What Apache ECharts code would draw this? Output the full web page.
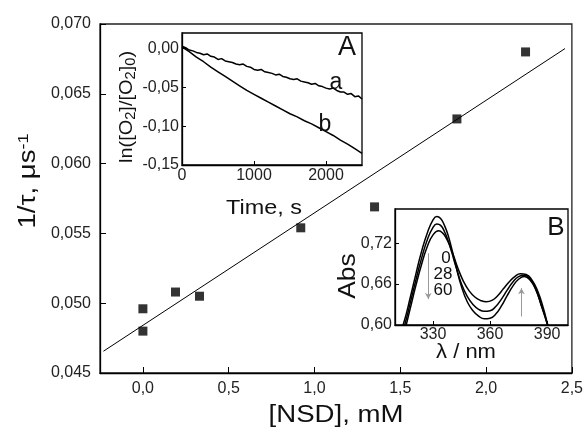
<!DOCTYPE html>
<html><head><meta charset="utf-8">
<script src="https://cdn.jsdelivr.net/npm/echarts@6/dist/echarts.min.js"></script>
<style>html,body{margin:0;padding:0;background:#fff}#c{width:586px;height:435px}</style>
</head><body><div id="c"></div>
<script>
// ---- Main panel data ----
const nsd = [0, 0, 0.19, 0.33, 0.92, 1.35, 1.83, 2.23];
const invTau = [0.0496, 0.0480, 0.0508, 0.0505, 0.0554, 0.0569, 0.0632, 0.0680];
const fitX = [-0.23, 2.46];
const fitY = [0.04656, 0.06824];
const mainXTicks = [0, 0.5, 1, 1.5, 2, 2.5];

// ---- Inset A data ----
const timeA = [0,50,100,150,200,250,300,350,400,450,500,550,600,650,700,750,800,850,900,950,1000,1050,1100,1150,1200,1250,1300,1350,1400,1450,1500,1550,1600,1650,1700,1750,1800,1850,1900,1950,2000,2050,2100,2150,2200,2250,2300,2350,2400,2450,2500];
const curveA = [0.003,0.001,-0.002,-0.003,-0.005,-0.006,-0.008,-0.007,-0.010,-0.011,-0.014,-0.013,-0.016,-0.017,-0.018,-0.020,-0.021,-0.020,-0.023,-0.024,-0.027,-0.028,-0.027,-0.030,-0.031,-0.032,-0.034,-0.033,-0.036,-0.037,-0.039,-0.040,-0.039,-0.042,-0.043,-0.044,-0.046,-0.045,-0.048,-0.049,-0.051,-0.052,-0.051,-0.054,-0.056,-0.056,-0.059,-0.058,-0.062,-0.061,-0.065];
const timeB = [0,100,200,300,400,500,600,700,800,900,1000,1100,1200,1300,1400,1500,1600,1700,1800,1900,2000,2100,2200,2300,2400,2500];
const curveB = [0.002,-0.004,-0.011,-0.017,-0.024,-0.030,-0.036,-0.042,-0.048,-0.054,-0.059,-0.064,-0.069,-0.074,-0.079,-0.084,-0.088,-0.093,-0.097,-0.102,-0.107,-0.112,-0.118,-0.123,-0.129,-0.135];
const insetAXTicks = [0, 1000, 2000];
const insetAYTicks = [-0.15, -0.10, -0.05, 0.00];

// ---- Inset B data ----
const wl0 = [312,315,318,321,324,327,330,332,334,336,338,340,342,345,348,351,354,357,360,363,366,369,372,375,378,381,384,387,390,392];
const abs0 = [0.583,0.607,0.640,0.675,0.708,0.735,0.754,0.759,0.756,0.746,0.731,0.710,0.687,0.656,0.634,0.621,0.613,0.609,0.610,0.616,0.628,0.643,0.657,0.667,0.671,0.666,0.652,0.628,0.602,0.580];
const wl28 = [312,315,318,321,324,327,330,332,334,336,338,340,342,345,348,351,354,357,360,363,366,369,372,375,378,381,384,387,390,392];
const abs28 = [0.574,0.599,0.632,0.666,0.698,0.725,0.743,0.748,0.746,0.737,0.723,0.705,0.686,0.660,0.642,0.630,0.623,0.620,0.621,0.627,0.638,0.651,0.663,0.671,0.673,0.668,0.653,0.629,0.603,0.581];
const wl60 = [312,315,318,321,324,327,330,333,335,337,339,341,343,346,349,352,355,358,361,364,367,370,373,376,379,382,385,388,390,392];
const abs60 = [0.566,0.591,0.624,0.658,0.689,0.715,0.732,0.738,0.735,0.727,0.715,0.700,0.684,0.664,0.650,0.641,0.636,0.634,0.636,0.643,0.653,0.663,0.671,0.675,0.674,0.666,0.650,0.625,0.604,0.582];
const arrowDown = [[327.5, 0.705], [327.5, 0.638]];
const arrowUp = [[376.5, 0.6125], [376.5, 0.654]];
const insetBXTicks = [330, 360, 390];
const insetBYTicks = [0.60, 0.66, 0.72];
const timeLabels = ['0', '28', '60'];

const zip = (xs, ys) => xs.map((x, i) => [x, ys[i]]);
const comma = d => v => v.toFixed(d).replace('.', ',');
const FONT = '"Liberation Sans", Arial, sans-serif';
const axisBase = {
  axisLine: {show: true, onZero: false, lineStyle: {color: '#000', width: 1.3}},
  splitLine: {show: false}
};

const chart = echarts.init(document.getElementById('c'), null, {renderer: 'canvas'});
chart.setOption({
  animation: false,
  backgroundColor: '#fff',
  grid: [
    {left: 100, top: 24, right: 12, bottom: 62, show: true, borderColor: '#222', borderWidth: 1.3, backgroundColor: '#fff', z: 0},
    {left: 182, top: 33, width: 180, height: 132, show: true, borderColor: '#000', borderWidth: 1.3, backgroundColor: '#fff', z: 3},
    {left: 395, top: 209, width: 173, height: 116, show: true, borderColor: '#000', borderWidth: 1.3, backgroundColor: '#fff', z: 3}
  ],
  xAxis: [
    Object.assign({}, axisBase, {gridIndex: 0, type: 'value', min: -0.25, max: 2.5,
      axisTick: {inside: true, length: 6, customValues: mainXTicks, lineStyle: {color: '#000'}},
      axisLabel: {customValues: mainXTicks, formatter: comma(1), fontFamily: FONT, fontSize: 16, color: '#222', margin: 8}}),
    Object.assign({}, axisBase, {gridIndex: 1, type: 'value', min: 0, max: 2500, z: 4,
      axisTick: {inside: true, length: 4, customValues: insetAXTicks, lineStyle: {color: '#000'}},
      axisLabel: {customValues: insetAXTicks, formatter: v => String(v), fontFamily: FONT, fontSize: 16, color: '#222', margin: 3}}),
    Object.assign({}, axisBase, {gridIndex: 2, type: 'value', min: 310, max: 401, z: 4,
      axisTick: {inside: true, length: 4, customValues: insetBXTicks, lineStyle: {color: '#000'}},
      axisLabel: {customValues: insetBXTicks, formatter: v => String(v), fontFamily: FONT, fontSize: 16, color: '#222', margin: 2}})
  ],
  yAxis: [
    Object.assign({}, axisBase, {gridIndex: 0, type: 'value', min: 0.045, max: 0.070, interval: 0.005,
      axisTick: {inside: true, length: 6, lineStyle: {color: '#000'}},
      axisLabel: {formatter: comma(3), fontFamily: FONT, fontSize: 16, color: '#222', margin: 9}}),
    Object.assign({}, axisBase, {gridIndex: 1, type: 'value', min: -0.15, max: 0.02, z: 4,
      axisTick: {inside: true, length: 4, customValues: insetAYTicks, lineStyle: {color: '#000'}},
      axisLabel: {customValues: insetAYTicks, formatter: comma(2), fontFamily: FONT, fontSize: 16, color: '#222', margin: 3}}),
    Object.assign({}, axisBase, {gridIndex: 2, type: 'value', min: 0.60, max: 0.77, z: 4,
      axisTick: {inside: true, length: 4, customValues: insetBYTicks, lineStyle: {color: '#000'}},
      axisLabel: {customValues: insetBYTicks, formatter: comma(2), fontFamily: FONT, fontSize: 16, color: '#222', margin: 3}})
  ],
  series: [
    {type: 'line', xAxisIndex: 0, yAxisIndex: 0, data: zip(fitX, fitY), symbol: 'none',
      lineStyle: {color: '#000', width: 1}, z: 1},
    {type: 'scatter', xAxisIndex: 0, yAxisIndex: 0, data: zip(nsd, invTau), symbol: 'rect', symbolSize: 9,
      itemStyle: {color: '#000'}, z: 2},
    {type: 'line', xAxisIndex: 1, yAxisIndex: 1, data: zip(timeA, curveA), symbol: 'none',
      lineStyle: {color: '#000', width: 1.5}, z: 5},
    {type: 'line', xAxisIndex: 1, yAxisIndex: 1, data: zip(timeB, curveB), symbol: 'none',
      lineStyle: {color: '#000', width: 1.5}, z: 5},
    {type: 'line', xAxisIndex: 2, yAxisIndex: 2, data: zip(wl0, abs0), symbol: 'none', smooth: true,
      lineStyle: {color: '#000', width: 1.5}, z: 5,
      markLine: {silent: true, symbol: ['none', 'arrow'], symbolSize: [5, 6], label: {show: false},
        lineStyle: {color: '#999', width: 1, type: 'solid'},
        data: [
          [{coord: arrowDown[0]}, {coord: arrowDown[1]}],
          [{coord: arrowUp[0]}, {coord: arrowUp[1]}]
        ]}},
    {type: 'line', xAxisIndex: 2, yAxisIndex: 2, data: zip(wl28, abs28), symbol: 'none', smooth: true,
      lineStyle: {color: '#000', width: 1.5}, z: 5},
    {type: 'line', xAxisIndex: 2, yAxisIndex: 2, data: zip(wl60, abs60), symbol: 'none', smooth: true,
      lineStyle: {color: '#000', width: 1.5}, z: 5}
  ],
  graphic: [
    {type: 'text', x: 29, y: 181, rotation: Math.PI / 2, scaleX: 1.2, z: 10,
      style: {text: '{n|1/τ, μs}{s|-1}', align: 'center', verticalAlign: 'middle', fill: '#111',
        rich: {n: {fontFamily: FONT, fontSize: 23, lineHeight: 26}, s: {fontFamily: FONT, fontSize: 15, verticalAlign: 'top', lineHeight: 26, padding: [0,0,10,0]}}}},
    {type: 'text', x: 336, y: 416, scaleX: 1.2, z: 10,
      style: {text: '[NSD], mM', align: 'center', verticalAlign: 'middle', fill: '#111', font: '23px ' + FONT}},
    {type: 'text', x: 127, y: 107, rotation: Math.PI / 2, scaleX: 1.05, z: 10,
      style: {text: '{n|ln([O}{b|2}{n|]/[O}{b|2}{n|]}{b|0}{n|)}', align: 'center', verticalAlign: 'middle', fill: '#111',
        rich: {n: {fontFamily: FONT, fontSize: 19, lineHeight: 22}, b: {fontFamily: FONT, fontSize: 14, verticalAlign: 'bottom', lineHeight: 22}}}},
    {type: 'text', x: 264, y: 208, scaleX: 1.17, z: 10,
      style: {text: 'Time, s', align: 'center', verticalAlign: 'middle', fill: '#111', font: '20px ' + FONT}},
    {type: 'text', x: 347, y: 48, z: 10,
      style: {text: 'A', align: 'center', verticalAlign: 'middle', fill: '#111', font: '27px ' + FONT}},
    {type: 'text', x: 336, y: 83, z: 10,
      style: {text: 'a', align: 'center', verticalAlign: 'middle', fill: '#111', font: '23px ' + FONT}},
    {type: 'text', x: 325, y: 125, z: 10,
      style: {text: 'b', align: 'center', verticalAlign: 'middle', fill: '#111', font: '23px ' + FONT}},
    {type: 'text', x: 556, y: 228, z: 10,
      style: {text: 'B', align: 'center', verticalAlign: 'middle', fill: '#111', font: '26px ' + FONT}},
    {type: 'text', x: 349, y: 276, rotation: Math.PI / 2, scaleX: 1.15, z: 10,
      style: {text: 'Abs', align: 'center', verticalAlign: 'middle', fill: '#111', font: '23px ' + FONT}},
    {type: 'text', x: 466, y: 352, scaleX: 1.1, z: 10,
      style: {text: 'λ / nm', align: 'center', verticalAlign: 'middle', fill: '#111', font: '20px ' + FONT}},
    {type: 'text', x: 446, y: 258, z: 10,
      style: {text: timeLabels[0], align: 'center', verticalAlign: 'middle', fill: '#111', font: '17px ' + FONT}},
    {type: 'text', x: 443, y: 274, z: 10,
      style: {text: timeLabels[1], align: 'center', verticalAlign: 'middle', fill: '#111', font: '17px ' + FONT}},
    {type: 'text', x: 443, y: 290, z: 10,
      style: {text: timeLabels[2], align: 'center', verticalAlign: 'middle', fill: '#111', font: '17px ' + FONT}}
  ]
});
</script></body></html>
